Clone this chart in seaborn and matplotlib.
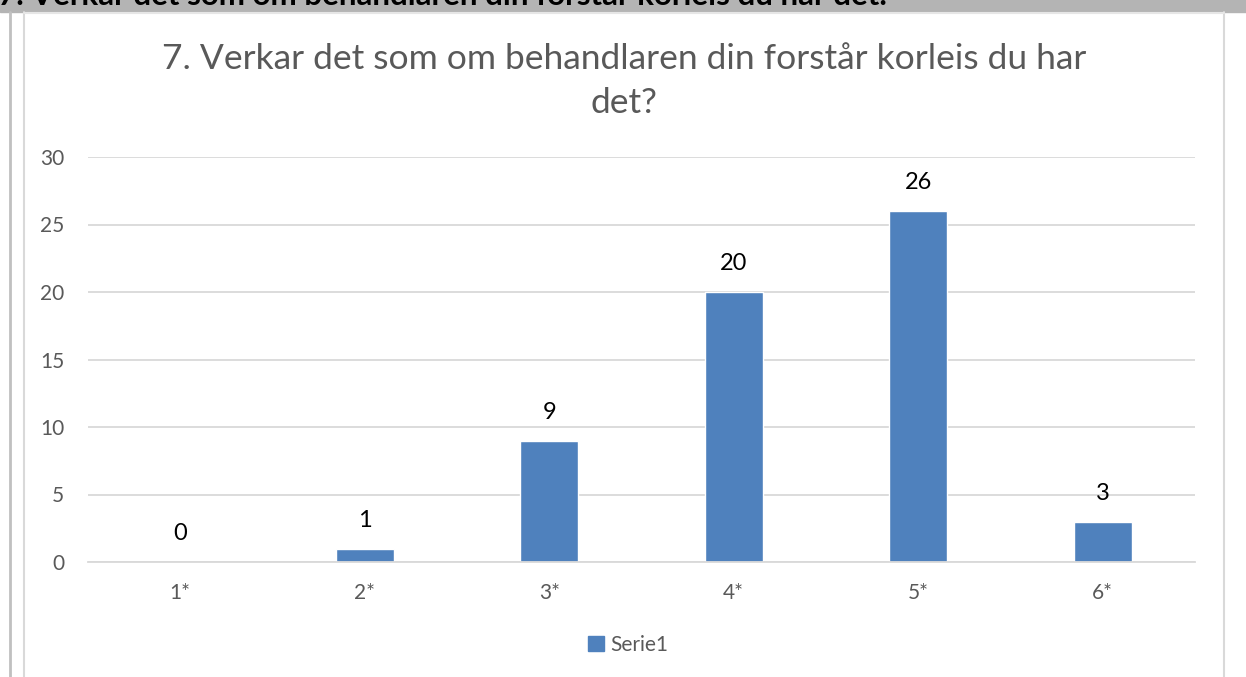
import matplotlib.pyplot as plt
import matplotlib.patches as mpatches
import matplotlib.lines as mlines
import seaborn as sns
import pandas as pd

categories = ["1*", "2*", "3*", "4*", "5*", "6*"]
values = [0, 1, 9, 20, 26, 3]
series_name = "Serie1"
title = "7. Verkar det som om behandlaren din forstår korleis du har\ndet?"
header = "7. Verkar det som om behandlaren din forstår korleis du har det."

BLUE = "#4f81bd"
GREY_TXT = "#595959"

sns.set_theme(style="white")
plt.rcParams["font.family"] = ["Lato", "DejaVu Sans"]

W, H = 1246, 677
fig = plt.figure(figsize=(W / 100, H / 100), dpi=100)


def fx(px):
    return px / W


def fy(py):
    return 1 - py / H


# header band (text is cut by the top edge, like the source screenshot)
fig.patches.append(mpatches.Rectangle((0, fy(12)), 1, 12 / H, transform=fig.transFigure,
                                      color="#b4b4b4", zorder=0))
fig.text(fx(-2), fy(5), header, fontsize=22.5, fontweight="bold", color="black",
         ha="left", va="baseline")
fig.lines.append(mlines.Line2D([fx(10), fx(10)], [fy(12), 0], transform=fig.transFigure,
                               color="#c0c0c0", lw=2))
fig.lines.append(mlines.Line2D([fx(24), fx(24)], [fy(12), 0], transform=fig.transFigure,
                               color="#d9d9d9", lw=1.5))
fig.lines.append(mlines.Line2D([fx(1224), fx(1224)], [fy(12), 0], transform=fig.transFigure,
                               color="#d9d9d9", lw=1.5))
fig.lines.append(mlines.Line2D([fx(24), fx(1224)], [fy(13), fy(13)], transform=fig.transFigure,
                               color="#e6e6e6", lw=1.5))

ax = fig.add_axes([fx(88), fy(562), fx(1195 - 88), (562 - 157) / H])
df = pd.DataFrame({"cat": categories, "val": values, "series": series_name})
sns.barplot(data=df, x="cat", y="val", hue="series", palette=[BLUE], width=0.315,
            ax=ax, saturation=1, legend=False)

ax.set_ylim(0, 30)
ax.set_yticks(range(0, 31, 5))
ax.yaxis.grid(True, color="#d9d9d9", lw=1.3)
ax.set_axisbelow(True)
for s in ["top", "right", "left"]:
    ax.spines[s].set_visible(False)
ax.spines["bottom"].set_color("#d9d9d9")
ax.spines["bottom"].set_linewidth(1.3)
ax.set_xlabel("")
ax.set_ylabel("")
ax.tick_params(axis="y", length=0, pad=17, labelsize=15, labelcolor=GREY_TXT)
ax.tick_params(axis="x", length=0, pad=15, labelsize=15, labelcolor=GREY_TXT)

for i, v in enumerate(values):
    ax.text(i, v + 1.3, str(v), ha="center", va="bottom", fontsize=17, color="black")

fig.text(fx(624), fy(81), title, ha="center", va="center", fontsize=25.5,
         color=GREY_TXT, linespacing=1.45)

handle = mpatches.Patch(color=BLUE, label=series_name)
fig.legend(handles=[handle], loc="center", bbox_to_anchor=(fx(628), fy(645)), frameon=False,
           fontsize=15, handlelength=0.75, handleheight=0.75, handletextpad=0.3,
           labelcolor=GREY_TXT)

fig.savefig("out.png", dpi=100)
